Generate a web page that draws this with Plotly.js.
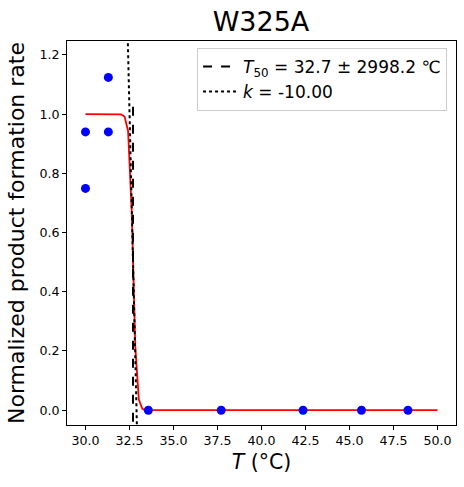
<!DOCTYPE html>
<html>
<head>
<meta charset="utf-8">
<script src="https://cdn.plot.ly/plotly-3.0.1.min.js"></script>
<style>html,body{margin:0;padding:0;background:#fff;}#chart{width:464px;height:487px;}</style>
</head>
<body>
<div id="chart"></div>
<script>
// Measured data points
const pointT = [30.0, 30.0, 31.3, 31.3, 33.57, 37.71, 42.36, 45.68, 48.32];
const pointRate = [0.94, 0.749, 1.124, 0.94, 0.0, 0.0, 0.0, 0.0, 0.0];

// Fitted curve
const fitT = [30.0, 32.02, 32.22, 32.42, 32.63, 32.83, 33.03, 33.23, 33.43, 50.0];
const fitRate = [1.0, 0.999, 0.992, 0.943, 0.668, 0.214, 0.036, 0.005, 0.0, 0.0];

// T50 marker line and slope (k) line
const t50LineT = [32.7, 32.7];
const t50LineY = [-0.1, 1.05];
const kLineT = [32.385, 32.94];
const kLineY = [1.3, -0.1];

const titleText = 'W325A';
const t50Label = '<i>T</i><sub>50</sub> = 32.7 ± 2998.2 ℃';
const kLabel = '<i>k</i> = -10.00';
const xLabel = '<i>T</i> (°C)';
const yLabel = 'Normalized product formation rate';
const xTicks = [30, 32.5, 35, 37.5, 40, 42.5, 45, 47.5, 50];
const yTicks = [0, 0.2, 0.4, 0.6, 0.8, 1.0, 1.2];

const font = 'DejaVu Sans, sans-serif';

const traces = [
  {x: fitT, y: fitRate, mode: 'lines', line: {color: 'red', width: 1.8}, showlegend: false, hoverinfo: 'skip'},
  {x: pointT, y: pointRate, mode: 'markers', marker: {color: 'blue', size: 9}, showlegend: false},
  {x: t50LineT, y: t50LineY, mode: 'lines', name: t50Label, line: {color: 'black', width: 2, dash: 'dash'}},
  {x: kLineT, y: kLineY, mode: 'lines', name: kLabel, line: {color: 'black', width: 2, dash: 'dot'}}
];

const layout = {
  width: 464, height: 487,
  margin: {l: 67, r: 8, t: 41, b: 62},
  paper_bgcolor: 'white', plot_bgcolor: 'white',
  font: {family: font, color: 'black', size: 12.6},
  title: {text: titleText, font: {family: font, size: 27, color: 'black'}, x: 0.5625, xanchor: 'center', y: 0.955, yanchor: 'middle'},
  xaxis: {
    range: [28.95, 51.05], tickvals: xTicks, tickformat: '.1f',
    showgrid: false, zeroline: false, showline: true, mirror: true, linecolor: 'black', linewidth: 1,
    ticks: 'outside', ticklen: 4, tickcolor: 'black',
    tickfont: {family: font, size: 12.6, color: 'black'},
    title: {text: xLabel, font: {family: font, size: 20.5, color: 'black'}, standoff: 7}
  },
  yaxis: {
    range: [-0.05, 1.247], tickvals: yTicks, tickformat: '.1f',
    showgrid: false, zeroline: false, showline: true, mirror: true, linecolor: 'black', linewidth: 1,
    ticks: 'outside', ticklen: 4, tickcolor: 'black',
    tickfont: {family: font, size: 12.6, color: 'black'},
    title: {text: yLabel, font: {family: font, size: 22, color: 'black'}, standoff: 8}
  },
  legend: {
    x: 0.977, y: 0.982, xanchor: 'right', yanchor: 'top',
    bgcolor: 'rgba(255,255,255,0.8)', bordercolor: '#cccccc', borderwidth: 1,
    font: {family: font, size: 17, color: 'black'}, itemwidth: 35, tracegroupgap: 0
  },
  showlegend: true
};

Plotly.newPlot('chart', traces, layout, {staticPlot: true, displayModeBar: false});
</script>
</body>
</html>
